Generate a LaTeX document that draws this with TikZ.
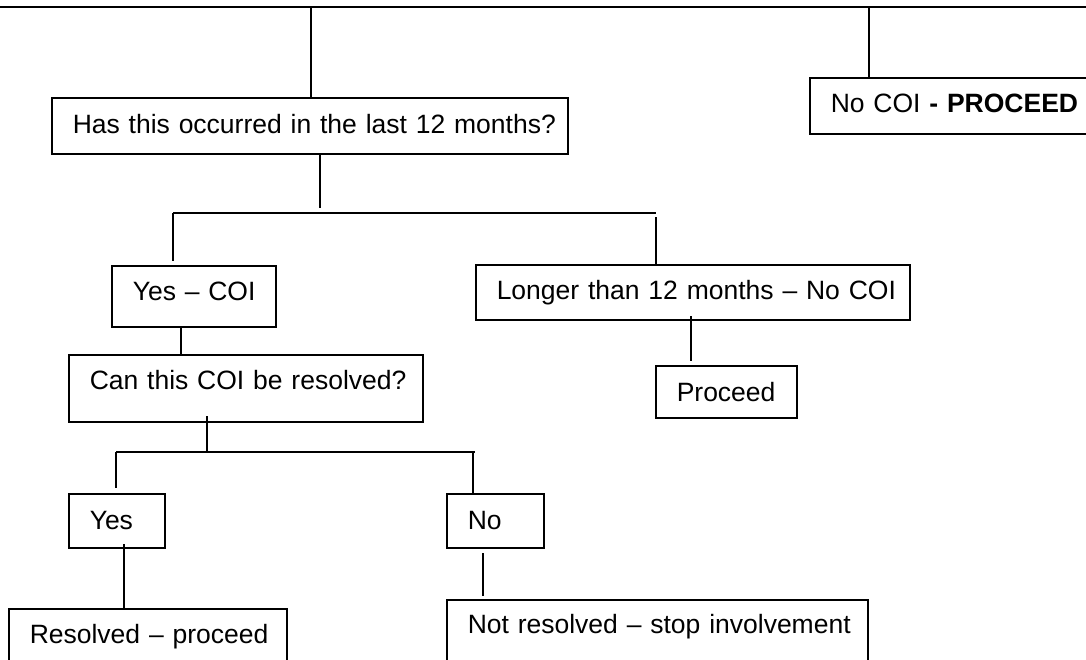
\documentclass[tikz,border=0pt]{standalone}
\usepackage{fontspec}
\setmainfont{Liberation Sans}
\usetikzlibrary{positioning}
\tikzset{
    box/.style={
    rectangle,draw=black,line width=1.5pt,anchor=north west,align=left,
    inner xsep=21pt,inner ysep=0pt,font=\fontsize{26.5}{30}\selectfont,
    execute at begin node={\hbox\bgroup},execute at end node={\egroup}
    },
    wire/.style={
    draw=black,line width=1.5pt
    },
}
\begin{document}
\begin{tikzpicture}[x=1pt,y=-1pt]
   \useasboundingbox (0,0) rectangle (1086,659);
   \clip (0,0) rectangle (1086,659);
   % boxes
   \node[box,text width=474pt,text height=36pt,text depth=20pt] (occ) at (51,97) {Has this occurred in the last 12 months?};
   \node[box,text width=258pt,text height=35pt,text depth=21pt] (nocoi) at (809,77) {No COI \textbf{- PROCEED}};
   \node[box,text width=122pt,text height=35pt,text depth=26pt] (yescoi) at (111,265) {Yes -- COI};
   \node[box,text width=392pt,text height=35pt,text depth=20pt] (longer) at (475,264) {Longer than 12 months -- No COI};
   \node[box,text width=312pt,text height=35pt,text depth=32pt] (canres) at (68,354) {Can this COI be resolved?};
   \node[box,text width=99pt,text height=36pt,text depth=16pt] (proc) at (655,365) {Proceed};
   \node[box,text width=54pt,text height=36pt,text depth=18pt] (yes) at (68,493) {Yes};
   \node[box,text width=55pt,text height=36pt,text depth=18pt] (no) at (446,493) {No};
   \node[box,text width=236pt,text height=35pt,text depth=45pt] (resolved) at (8,608) {Resolved -- proceed};
   \node[box,text width=379pt,text height=34pt,text depth=45pt] (notres) at (446,599) {Not resolved -- stop involvement};
   % junction points
   \coordinate (topL) at (0,7);
   \coordinate (topR) at (1086,7);
   \coordinate (a1) at (311,7);
   \coordinate (a2) at (869,7);
   \coordinate (b1) at (320,208);
   \coordinate (h1L) at (173,213);
   \coordinate (h1R) at (656,213);
   \coordinate (c1) at (173,261);
   \coordinate (c2) at (656,217);
   \coordinate (d1) at (181,340);
   \coordinate (e1) at (691,316);
   \coordinate (e2) at (691,361);
   \coordinate (f1) at (207,416);
   \coordinate (f2) at (207,453);
   \coordinate (h2L) at (116,452);
   \coordinate (h2R) at (475,452);
   \coordinate (g1) at (116,488);
   \coordinate (g2) at (473,452);
   \coordinate (g3) at (473,495);
   \coordinate (k1) at (124,544);
   \coordinate (m1) at (483,553);
   \coordinate (m2) at (483,596);
   % connectors
   \path[wire]
    (topL) -- (topR)
    (a1) -- (a1 |- occ.north)
    (a2) -- (a2 |- nocoi.north)
    (occ.south -| b1) -- (b1)
    (h1L) -- (h1R)
    (h1L) -- (c1)
    (c2) -- (c2 |- longer.north)
    (yescoi.south -| d1) -- (d1 |- canres.north)
    (e1) -- (e2)
    (f1) -- (f2)
    (h2L) -- (h2R)
    (h2L) -- (g1)
    (g2) -- (g3)
    (k1) -- (k1 |- resolved.north)
    (m1) -- (m2);
\end{tikzpicture}
\end{document}
